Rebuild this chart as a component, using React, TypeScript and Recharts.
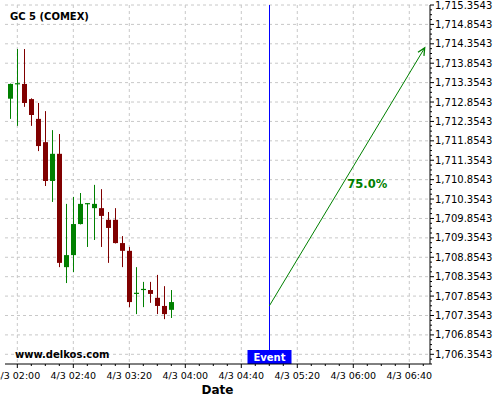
import { ComposedChart, Bar, XAxis, YAxis, CartesianGrid, ReferenceLine, ReferenceDot } from 'recharts';

// 5-minute candles, GC 5 (COMEX), 4/3
const times = [
  '01:55', '02:00', '02:05', '02:10', '02:15', '02:20', '02:25', '02:30',
  '02:35', '02:40', '02:45', '02:50', '02:55', '03:00', '03:05', '03:10',
  '03:15', '03:20', '03:25', '03:30', '03:35', '03:40', '03:45', '03:50',
];
const opens = [
  1712.94, 1713.33, 1713.32, 1712.93, 1712.42, 1711.82, 1710.82, 1711.52,
  1708.60, 1708.91, 1709.71, 1710.24, 1710.12, 1710.12, 1709.82, 1709.82,
  1709.22, 1709.02, 1707.93, 1708.03, 1708.01, 1707.81, 1707.60, 1707.50,
];
const highs = [
  1713.33, 1714.22, 1714.22, 1712.95, 1712.83, 1712.62, 1712.13, 1712.03,
  1710.23, 1710.41, 1710.51, 1710.25, 1710.72, 1710.61, 1710.02, 1710.12,
  1709.40, 1709.12, 1708.60, 1708.22, 1708.22, 1708.40, 1708.11, 1708.01,
];
const lows = [
  1712.42, 1712.24, 1712.73, 1712.24, 1711.59, 1710.69, 1710.28, 1708.60,
  1708.19, 1708.47, 1709.70, 1709.12, 1709.30, 1709.12, 1708.71, 1709.21,
  1708.60, 1707.57, 1707.39, 1707.57, 1707.68, 1707.39, 1707.26, 1707.29,
];
const closes = [
  1713.32, 1713.34, 1712.83, 1712.52, 1711.72, 1710.82, 1711.52, 1708.71,
  1708.91, 1709.71, 1710.23, 1710.25, 1710.23, 1709.92, 1709.61, 1709.22,
  1709.02, 1707.70, 1707.94, 1708.04, 1707.91, 1707.60, 1707.39, 1707.70,
];

// forecast arrow and event
const eventTime = '05:00';
const arrowFrom = { time: '05:00', price: 1707.6 };
const arrowTo = { time: '06:51', price: 1714.25 };
const forecastLabel = '75.0%';
const forecastLabelAt = { time: '06:10', price: 1710.74 };

const yMajorTicks = [
  1706.3543, 1706.8543, 1707.3543, 1707.8543, 1708.3543, 1708.8543, 1709.3543,
  1709.8543, 1710.3543, 1710.8543, 1711.3543, 1711.8543, 1712.3543, 1712.8543,
  1713.3543, 1713.8543, 1714.3543, 1714.8543, 1715.3543,
];
const xMajorTicks = ['02:00', '02:40', '03:20', '04:00', '04:40', '05:20', '06:00', '06:40'];

const GREEN = '#008000';
const RED = '#800000';
const FONT = 'DejaVu Sans';

const toMin = (s: string) => {
  const [h, m] = s.split(':').map(Number);
  return h * 60 + m;
};
const pad = (n: number) => String(n).padStart(2, '0');
const fmtTime = (m: number) => `4/3 ${pad(Math.floor(m / 60))}:${pad(m % 60)}`;

const data = times.map((t, i) => ({
  t: toMin(t),
  open: opens[i],
  high: highs[i],
  low: lows[i],
  close: closes[i],
  range: [lows[i], highs[i]],
}));

const yDomain = [1706.1043, 1715.3543];
const xDomain = [111.2, 414.8];

// minor ticks: 4 per y interval, every 10 min on x
const yTicks: number[] = [];
for (let v = yDomain[0]; v <= yDomain[1] + 1e-6; v += 0.125) yTicks.push(+v.toFixed(4));
const xMajor = xMajorTicks.map(toMin);
const xTicks: number[] = [];
for (let m = 120; m <= 410; m += 10) xTicks.push(m);

const isYMajor = (v: number) => yMajorTicks.some(t => Math.abs(t - v) < 1e-6);

const YTick = (p: any) => {
  const v = p.payload.value;
  const major = isYMajor(v);
  return (
    <g>
      <line x1={p.x} x2={p.x + (major ? 4 : 2)} y1={p.y} y2={p.y} stroke="#000" />
      {major && (
        <text x={p.x + 5} y={p.y} dy="0.35em" fontSize={10} fontFamily={FONT} fill="#000">
          {v.toLocaleString('en-US', { minimumFractionDigits: 4, maximumFractionDigits: 4 })}
        </text>
      )}
    </g>
  );
};

const XTick = (p: any) => {
  const v = p.payload.value;
  const major = xMajor.includes(v);
  return (
    <g>
      <line x1={p.x} x2={p.x} y1={p.y} y2={p.y + (major ? 4 : 2)} stroke="#000" />
      {major && (
        <text x={p.x} y={p.y + 15} textAnchor="middle" fontSize={9.5} fontFamily={FONT} fill="#000">
          {fmtTime(v)}
        </text>
      )}
    </g>
  );
};

const Candle = (props: any) => {
  const { x, y, width, height, payload } = props;
  const { open, close, high, low } = payload;
  const color = close >= open ? GREEN : RED;
  const top = Math.min(y, y + height);
  const h = Math.abs(height);
  const toY = (v: number) => top + ((high - v) / (high - low)) * h;
  const cx = Math.round(x + width / 2) + 0.5;
  const bTop = toY(Math.max(open, close));
  const bBot = toY(Math.min(open, close));
  return (
    <g>
      <line x1={cx} x2={cx} y1={top} y2={top + h} stroke={color} strokeWidth={1} />
      <rect x={cx - 2.5} y={bTop} width={5} height={Math.max(bBot - bTop, 1.2)} fill={color} />
    </g>
  );
};

const Arrow = (p: any) => {
  const { x1, y1, x2, y2 } = p;
  const a = Math.atan2(y2 - y1, x2 - x1);
  const len = 8;
  const s = 0.45;
  const ax = x2 - len * Math.cos(a - s);
  const ay = y2 - len * Math.sin(a - s);
  const bx = x2 - len * Math.cos(a + s);
  const by = y2 - len * Math.sin(a + s);
  return (
    <g>
      <line x1={x1} y1={y1} x2={x2} y2={y2} stroke={GREEN} strokeWidth={1} />
      <polyline points={`${ax},${ay} ${x2},${y2} ${bx},${by}`} fill="none" stroke={GREEN} strokeWidth={1.3} />
    </g>
  );
};

const EventLine = (p: any) => {
  const x = Math.round(p.x1) + 0.5;
  return <line x1={x} x2={x} y1={p.y1} y2={p.y2} stroke="#0000ff" strokeWidth={1} />;
};

const EventLabel = (p: any) => {
  const vb = p.viewBox || {};
  const cx = Math.round(vb.x) + 0.5;
  const bottom = vb.y + vb.height;
  return (
    <g>
      <rect x={cx - 22} y={bottom - 14} width={44} height={14} fill="#0000ff" />
      <text x={cx} y={bottom - 3} textAnchor="middle" fontSize={10} fontWeight="bold" fontFamily={FONT} fill="#fff">
        Event
      </text>
    </g>
  );
};

const PctLabel = (p: any) => {
  const vb = p.viewBox || {};
  const cx = vb.x + (vb.width || 0) / 2;
  const cy = vb.y + (vb.height || 0) / 2;
  return (
    <text x={cx} y={cy} dy="0.35em" textAnchor="middle" fontSize={11.5} fontWeight="bold" fontFamily={FONT} fill={GREEN}>
      {forecastLabel}
    </text>
  );
};

export default function App() {
  return (
    <div style={{ position: 'absolute', left: 0, top: 0, width: 500, height: 400, background: '#fff' }}>
      <ComposedChart width={500} height={400} data={data} margin={{ top: 5, right: 0, bottom: 0, left: 5 }}>
        <CartesianGrid
          stroke="#c8c8c8"
          strokeDasharray="3 3"
          horizontalValues={yMajorTicks}
          verticalValues={xMajor}
        />
        <XAxis
          dataKey="t"
          type="number"
          domain={xDomain}
          allowDataOverflow
          ticks={xTicks}
          interval={0}
          tick={<XTick />}
          tickLine={false}
          tickSize={0}
          tickMargin={0}
          height={36}
          stroke="#000"
        />
        <YAxis
          orientation="right"
          type="number"
          domain={yDomain}
          allowDataOverflow
          ticks={yTicks}
          interval={0}
          tick={<YTick />}
          tickLine={false}
          tickSize={0}
          tickMargin={0}
          width={70}
          stroke="#000"
        />
        <Bar dataKey="range" barSize={5} shape={<Candle />} isAnimationActive={false} />
        <ReferenceLine x={toMin(eventTime)} stroke="#0000ff" shape={<EventLine />} label={<EventLabel />} />
        <ReferenceLine
          segment={[
            { x: toMin(arrowFrom.time), y: arrowFrom.price },
            { x: toMin(arrowTo.time), y: arrowTo.price },
          ]}
          shape={<Arrow />}
        />
        <ReferenceDot
          x={toMin(forecastLabelAt.time)}
          y={forecastLabelAt.price}
          r={0}
          fill="none"
          stroke="none"
          label={<PctLabel />}
        />
      </ComposedChart>
      <svg width={500} height={400} style={{ position: 'absolute', left: 0, top: 0, pointerEvents: 'none' }}>
        <text x={10} y={20} fontSize={10} fontWeight="bold" fontFamily={FONT} fill="#000">
          GC 5 (COMEX)
        </text>
        <text x={15} y={358} fontSize={10} fontWeight="bold" fontFamily={FONT} fill="#000">
          www.delkos.com
        </text>
        <text x={217.5} y={394} textAnchor="middle" fontSize={12} fontWeight="bold" fontFamily={FONT} fill="#000">
          Date
        </text>
      </svg>
    </div>
  );
}
